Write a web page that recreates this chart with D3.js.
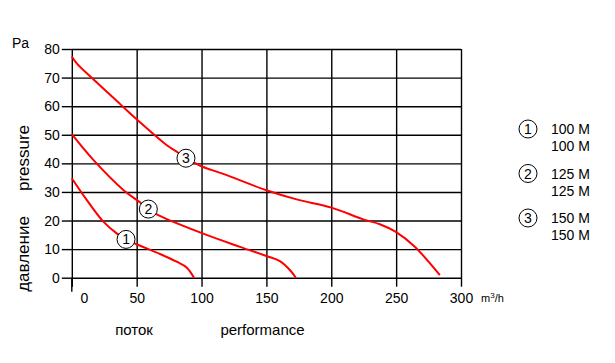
<!DOCTYPE html>
<html>
<head>
<meta charset="utf-8">
<script src="https://cdn.jsdelivr.net/npm/d3@7"></script>
<style>
  body { margin: 0; background: #fff; }
  svg text { font-family: "Liberation Sans", Arial, sans-serif; fill: #000; }
</style>
</head>
<body>
<div id="chart"></div>
<script>
// Data (flow m3/h, pressure Pa)
const xTicks = [0, 50, 100, 150, 200, 250, 300];
const yTicks = [0, 10, 20, 30, 40, 50, 60, 70, 80];

const curve1 = [[0, 34.8], [11.5, 27.2], [24.3, 19.6], [34.6, 15.5], [41.8, 13.4], [50, 11.7],
  [68, 8.3], [80.8, 5.6], [88.5, 3.6], [94.2, 0]];
const curve2 = [[0, 50.2], [16.6, 41.2], [39.7, 30.7], [51.8, 26.6], [59, 24.0], [66.6, 21.9],
  [100.8, 15.5], [129.6, 10.8], [150, 7.6], [160.4, 5.8], [168.1, 2.7], [172.7, 0]];
const curve3 = [[0, 77.4], [3.8, 75.0], [16.6, 69.4], [37.1, 60.8], [50, 55.4], [73, 46.4],
  [80.8, 44.1], [88, 41.8], [96.2, 39.8], [100.8, 38.8], [116.7, 36.3], [150, 30.6],
  [173.3, 27.4], [200.2, 24.5], [224.6, 20.4], [237.4, 18.7], [249.5, 16.1], [264.4, 10.8],
  [283.7, 0.9]];
const curves = [curve1, curve2, curve3];

const markerIds = ["1", "2", "3"];
const markerPos = [[41.8, 13.4], [59, 24.0], [88, 41.8]];
const legendLines = [["100 M", "100 M"], ["125 M", "125 M"], ["150 M", "150 M"]];

const W = 615, H = 363;
const margin = { top: 49, left: 71.8 };
const width = 389.2, height = 228.7;

const svg = d3.select("#chart").append("svg")
  .attr("width", W).attr("height", H);
const g = svg.append("g").attr("transform", `translate(${margin.left},${margin.top})`);

const x = d3.scaleLinear().domain([0, 300]).range([0, width]);
const y = d3.scaleLinear().domain([0, 80]).range([height, 0]);

// horizontal grid + left ticks
const gy = g.append("g")
  .call(d3.axisLeft(y).tickValues(yTicks).tickSize(10).tickPadding(2).tickSizeOuter(0));
gy.select(".domain").remove();
gy.selectAll("text").style("font-size", "14px");
gy.selectAll(".tick").append("line")
  .attr("x2", width).attr("stroke", "#000").attr("stroke-width", 1.4);
gy.selectAll(".tick line").attr("stroke-width", 1.4);

// vertical grid + bottom ticks
const drop = 9;
const gx = g.append("g")
  .attr("transform", `translate(0,${height + drop})`)
  .call(d3.axisBottom(x).tickValues(xTicks).tickSize(-(height + drop)).tickPadding(6).tickSizeOuter(0));
gx.select(".domain").remove();
gx.selectAll(".tick line").attr("stroke-width", 1.4);
gx.selectAll("text").style("font-size", "14px")
  .attr("dx", d => d === 0 ? 12 : 0);
// left axis reaches slightly lower
g.append("line").attr("x1", x(0)).attr("x2", x(0))
  .attr("y1", y(0)).attr("y2", height + 14)
  .attr("stroke", "#000").attr("stroke-width", 1.4);

// curves
const line = d3.line().x(d => x(d[0])).y(d => y(d[1])).curve(d3.curveCatmullRom.alpha(0.5));
curves.forEach(c => {
  g.append("path").datum(c)
    .attr("d", line)
    .attr("fill", "none")
    .attr("stroke", "#ff0000")
    .attr("stroke-width", 2);
});

// numbered markers on curves
markerPos.forEach((p, i) => {
  const m = g.append("g").attr("transform", `translate(${x(p[0])},${y(p[1])})`);
  m.append("circle").attr("r", 9).attr("fill", "#fff").attr("stroke", "#000").attr("stroke-width", 1);
  m.append("text").attr("text-anchor", "middle").attr("dy", "0.36em")
    .style("font-size", "14px").text(markerIds[i]);
});

// unit labels
svg.append("text").attr("x", 12).attr("y", 48).style("font-size", "14px").text("Pa");
svg.append("text").attr("x", 481).attr("y", 302).style("font-size", "11px")
  .html('m<tspan dy="-4" style="font-size:8px">3</tspan><tspan dy="4">/h</tspan>');

// axis titles
svg.append("text").attr("transform", "translate(29,158) rotate(-90)")
  .attr("text-anchor", "middle").style("font-size", "17px").text("pressure");
svg.append("text").attr("transform", "translate(29,254) rotate(-90)")
  .attr("text-anchor", "middle").style("font-size", "17px").text("давление");
svg.append("text").attr("x", 134).attr("y", 335)
  .attr("text-anchor", "middle").style("font-size", "15px").text("поток");
svg.append("text").attr("x", 262.5).attr("y", 335)
  .attr("text-anchor", "middle").style("font-size", "15px").text("performance");

// legend
const legend = svg.selectAll(".legend").data(legendLines).enter().append("g")
  .attr("class", "legend")
  .attr("transform", (d, i) => `translate(528,${129 + i * 44.5})`);
legend.append("circle").attr("r", 9).attr("fill", "#fff").attr("stroke", "#000").attr("stroke-width", 1);
legend.append("text").attr("text-anchor", "middle").attr("dy", "0.36em")
  .style("font-size", "14px").text((d, i) => markerIds[i]);
legend.append("text").attr("x", 23).attr("dy", "0.36em").style("font-size", "14px").text(d => d[0]);
legend.append("text").attr("x", 23).attr("y", 17).attr("dy", "0.36em").style("font-size", "14px").text(d => d[1]);
</script>
</body>
</html>
